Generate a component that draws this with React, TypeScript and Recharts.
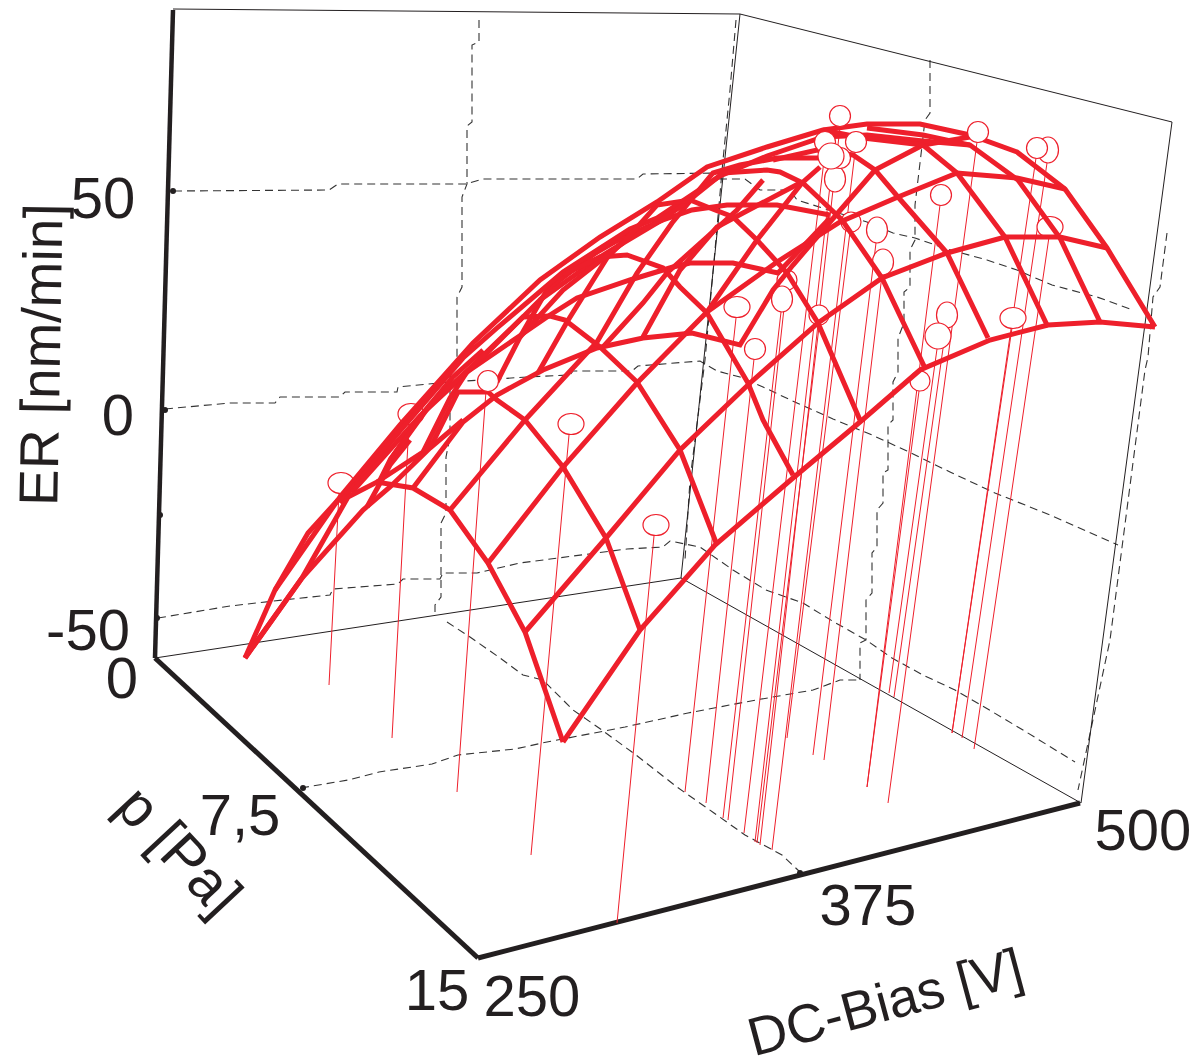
import React from "react";
import { ScatterChart, Scatter, XAxis, YAxis, ReferenceDot } from "recharts";

type P = [number, number];

const RED = "#ee1f2b";
const INK = "#231f20";
const W = 1197;
const H = 1059;

// Surface mesh, in the picture's projected plane
const dcLine0: P[] = [[563,742],[640,630],[715,545],[793,478],[860,422],[920,370],[990,340],[1048,325],[1100,322],[1155,327]];
const dcLine1: P[] = [[525,632],[606,538],[680,450],[750,383],[818,323],[882,278],[947,253],[1005,237],[1060,237],[1107,248]];
const dcLine2: P[] = [[488,563],[563,467],[637,383],[707,312],[777,262],[840,222],[898,197],[957,173],[1017,178],[1065,189]];
const dcLine3: P[] = [[450,510],[525,420],[597,342],[637,273],[672,223],[713,173],[740,165],[777,158],[820,158]];
const dcLine4: P[] = [[413,488],[463,422],[497,395],[543,370],[597,348],[643,338],[692,333],[740,345],[773,290],[793,265],[830,222],[875,170],[923,145],[970,137]];
const dcLine5: P[] = [[377,482],[423,452],[450,398],[467,372],[518,337],[550,315],[577,298],[630,280],[673,267],[690,263],[733,263],[778,273],[830,218]];
const dcLine6a: P[] = [[378,484],[390,460],[423,413],[453,377],[483,350]];
const dcLine6b: P[] = [[497,382],[520,337],[547,290],[563,275],[587,258],[630,233]];
const dcLine7: P[] = [[245,658],[302,578],[363,510],[390,487],[430,448],[463,420]];
const extraA: P[] = [[540,300],[560,280],[603,247],[633,233],[663,220],[692,210],[727,205],[777,205],[830,215]];
const extraB: P[] = [[643,337],[680,270],[693,255],[717,227],[743,213],[800,183]];
const extraC: P[] = [[707,312],[757,240],[802,183],[820,167]];
const extraD: P[] = [[603,347],[643,303],[667,273],[707,237],[737,210],[763,180]];
const extraE: P[] = [[538,373],[567,322],[607,258],[627,237]];
const extraF: P[] = [[275,590],[308,533],[338,500]];
const extraG: P[] = [[367,507],[390,465],[410,440]];
const silhouette: P[] = [[245,658],[275,590],[340,497],[400,425],[473,343],[540,280],[600,237],[657,202],[707,167],[767,147],[823,130],[867,124],[920,124],[970,135],[1017,152],[1065,189],[1107,248],[1155,327]];
const innerRim: P[] = [[340,503],[400,431],[463,358],[497,328],[563,272],[630,229],[657,218],[693,194],[720,176],[767,156],[823,137],[867,135],[923,141],[970,145]];
const thirdRim: P[] = [[352,492],[420,416],[480,360],[540,300],[600,257],[623,243],[657,223],[693,198]];
const pLine0: P[] = [[563,742],[525,632],[488,563],[450,510],[413,488],[377,482],[348,497],[302,578],[245,658]];
const pLine1: P[] = [[640,630],[606,538],[563,467],[525,420],[497,400],[488,392],[458,392],[433,442],[423,452]];
const pLine2: P[] = [[717,545],[680,450],[637,382],[600,347],[565,320],[550,316],[523,317],[470,368],[430,405],[390,460]];
const pLine3: P[] = [[793,475],[763,420],[748,383],[707,313],[680,287],[663,268],[627,255],[600,257],[563,275]];
const pLine4: P[] = [[860,420],[818,323],[787,273],[757,240],[733,217],[710,208],[690,200],[657,205],[623,243],[563,290],[520,337]];
const pLine5: P[] = [[925,368],[882,278],[842,220],[803,183],[780,172],[767,170],[723,173],[693,197]];
const pLine6: P[] = [[988,338],[947,253],[898,197],[875,170],[853,155],[817,150],[773,160]];
const pLine7: P[] = [[1048,327],[1005,237],[957,173],[923,145],[863,138],[823,130]];
const pLine8: P[] = [[1100,322],[1060,238],[1018,180],[970,145],[923,135],[867,128]];
const meshLines: P[][] = [dcLine0,dcLine1,dcLine2,dcLine3,dcLine4,dcLine5,dcLine6a,dcLine6b,dcLine7,extraA,extraB,extraC,extraD,extraE,extraF,extraG,silhouette,innerRim,thirdRim,pLine0,pLine1,pLine2,pLine3,pLine4,pLine5,pLine6,pLine7,pLine8];

// Box frame
const heavyZ: P[] = [[173,10],[155,658]];
const heavyP: P[] = [[155,658],[478,958]];
const heavyDc: P[] = [[478,958],[1080,803]];
const thinLines: P[][] = [
  [[173,9],[740,14],[1172,122],[1081,803]],
  [[740,14],[681,578]],
  [[155,658],[681,578],[1081,803]],
];

// Dashed grid, stepped as in the picture
const gridZ50: P[] = [[174,191],[329,190],[338,184],[466,184],[483,179],[637,179],[643,174],[723,173],[720,179],[745,179],[760,190],[790,190],[797,200],[867,222],[893,233],[915,238],[947,249],[987,260],[1017,270],[1052,285],[1097,297],[1133,310]];
const gridZ0: P[] = [[165,409],[230,403],[275,403],[280,397],[340,397],[345,392],[397,392],[398,387],[450,382],[527,377],[570,375],[573,371],[632,371],[638,366],[700,361],[717,371],[740,377],[763,387],[797,403],[833,419],[872,435],[907,451],[950,472],[995,493],[1050,515],[1118,545]];
const gridZm50: P[] = [[158,618],[230,606],[283,600],[330,595],[333,589],[398,584],[403,579],[440,579],[443,573],[477,573],[520,563],[627,549],[663,547],[670,541],[700,547],[733,570],[766,590],[803,603],[834,622],[866,640],[892,658],[923,675],[955,690],[986,708],[1023,730],[1075,762]];
const gridBackP: P[] = [[479,20],[479,42],[472,45],[472,122],[467,126],[467,184],[462,197],[462,287],[457,297],[457,360],[450,377],[450,437],[446,457],[446,513],[441,523],[441,597],[435,605],[435,617]];
const gridBackDc: P[] = [[930,60],[930,113],[925,120],[920,163],[915,205],[915,240],[910,250],[910,287],[904,292],[904,323],[898,338],[898,372],[893,382],[893,420],[888,425],[888,470],[883,473],[883,503],[877,510],[877,547],[872,553],[872,593],[866,600],[866,640],[860,643],[860,680]];
const gridFloorDc: P[] = [[447,622],[470,637],[500,658],[523,675],[543,680],[573,710],[599,728],[636,755],[677,787],[714,813],[745,835],[782,855],[800,872]];
const gridFloorP: P[] = [[301,788],[348,780],[379,772],[432,764],[458,755],[515,749],[547,742],[594,733],[625,727],[688,713],[756,700],[813,690],[840,680],[860,680]];
const gridEdgeBack: P[] = [[736,20],[730,90],[723,160],[715,250],[705,360],[690,480],[685,560]];
const gridEdgeRight: P[] = [[1167,233],[1160,287],[1153,297],[1148,357],[1145,370],[1110,640],[1078,790]];
const gridLines: P[][] = [gridZ50,gridZ0,gridZm50,gridBackP,gridBackDc,gridFloorDc,gridFloorP,gridEdgeBack,gridEdgeRight];

// Measured points: head of each drop line, and its foot on the floor
const stems: P[][] = [
  [[339,493],[329,685]],[[409,424],[392,738]],[[486,391],[457,792]],[[569,435],[531,855]],[[654,536],[617,923]],
  [[736,318],[685,792]],[[754,359],[706,803]],[[781,312],[723,818]],[[786,290],[728,820]],[[825,152],[744,833]],
  [[832,168],[755,842]],[[819,327],[757,843]],[[840,127],[760,845]],[[855,152],[772,850]],[[850,232],[787,738]],
  [[876,243],[813,755]],[[882,275],[824,760]],[[940,205],[867,787]],[[919,391],[867,787]],[[977,142],[888,803]],
  [[937,349],[889,693]],[[946,327],[894,697]],[[1036,158],[952,733]],[[1012,328],[952,733]],[[1047,163],[962,738]],
  [[1049,237],[974,749]],
];
const backRound: P[] = [[787,280],[851,222],[920,381],[819,315]];
const backWide: P[] = [[341,483],[411,414],[571,424],[656,525],[737,307],[1050,227],[1013,318]];
const backTall: P[] = [[877,230],[883,262],[782,299],[947,315],[1048,150],[835,179]];
const frontRound: P[] = [[488,381],[755,349],[840,116],[825,142],[856,142],[840,158],[941,195],[978,132],[1037,148]];
const frontLarge: P[] = [[831,156],[938,336]];

const tickLabels = ["50", "0", "-50", "0", "7,5", "15", "250", "375", "500"];
const tickAnchors: P[] = [[103,218],[118,435],[88,650],[122,698],[240,835],[437,1010],[532,1016],[868,925],[1143,850]];
const axisTitles = ["ER [nm/min]", "p [Pa]", "DC-Bias [V]"];
const titleAnchors: P[] = [[60,355],[165,864],[890,1020]];
const titleAngles = [-89, 47, -15];
const titleSizes = [55, 58, 54];
const tickDots: P[] = [[173,191],[165,410],[160,515],[157,618],[303,788],[800,873]];

const toRows = (pts: P[]) => pts.map(([x, y]) => ({ x, y }));
const noMark = () => null;
const fontFamily = "'Liberation Sans', Arial, sans-serif";

const ring = (rx: number, ry: number, fill: string) => (p: any) => (
  <ellipse cx={p.cx} cy={p.cy} rx={rx} ry={ry} fill={fill} stroke={RED} strokeWidth={1.2} />
);

function line(pts: P[], key: string, stroke: string, width: number, dash?: string) {
  return (
    <Scatter
      key={key}
      data={toRows(pts)}
      fill="none"
      shape={noMark}
      isAnimationActive={false}
      line={{ stroke, strokeWidth: width, strokeDasharray: dash, strokeLinejoin: "miter", strokeLinecap: "butt" }}
    />
  );
}

function rings(pts: P[], key: string, rx: number, ry: number, fill: string) {
  return <Scatter key={key} data={toRows(pts)} shape={ring(rx, ry, fill)} isAnimationActive={false} />;
}

export default function App() {
  return (
    <div style={{ position: "absolute", left: 0, top: 0, width: W, height: H, background: "#fff" }}>
      <ScatterChart width={W} height={H} margin={{ top: 0, right: 0, bottom: 0, left: 0 }}>
        <XAxis dataKey="x" type="number" domain={[0, W]} hide />
        <YAxis dataKey="y" type="number" domain={[0, H]} reversed hide />
        {gridLines.map((g, i) => line(g, `g${i}`, "#333", 1.1, "8 5"))}
        {thinLines.map((g, i) => line(g, `t${i}`, INK, 1))}
        {line(heavyZ, "hz", INK, 4.5)}
        {line(heavyP, "hp", INK, 5)}
        {line(heavyDc, "hd", INK, 5)}
        <Scatter data={toRows(tickDots)} shape={(p: any) => <circle cx={p.cx} cy={p.cy} r={3} fill={INK} />} isAnimationActive={false} />
        {stems.map((s, i) => line(s, `s${i}`, RED, 1))}
        {rings(backRound, "br", 10, 10, "#fff")}
        {rings(backWide, "bw", 13, 10.5, "#fff")}
        {rings(backTall, "bt", 10.5, 13, "#fff")}
        {meshLines.map((m, i) => line(m, `m${i}`, RED, 5))}
        {rings(frontRound, "fr", 10.5, 10.5, "#fff")}
        {rings(frontLarge, "fl", 13, 13, "#fff")}
        {tickLabels.map((t, i) => (
          <ReferenceDot
            key={`l${i}`}
            x={tickAnchors[i][0]}
            y={tickAnchors[i][1]}
            r={0}
            shape={(p: any) => (
              <text x={p.cx} y={p.cy} textAnchor="middle" fontFamily={fontFamily} fontSize={58} fill={INK}>{t}</text>
            )}
          />
        ))}
        {axisTitles.map((t, i) => (
          <ReferenceDot
            key={`a${i}`}
            x={titleAnchors[i][0]}
            y={titleAnchors[i][1]}
            r={0}
            shape={(p: any) => (
              <text
                x={p.cx}
                y={p.cy}
                textAnchor="middle"
                fontFamily={fontFamily}
                fontSize={titleSizes[i]}
                fill={INK}
                transform={`rotate(${titleAngles[i]} ${p.cx} ${p.cy})`}
              >
                {t}
              </text>
            )}
          />
        ))}
      </ScatterChart>
    </div>
  );
}
